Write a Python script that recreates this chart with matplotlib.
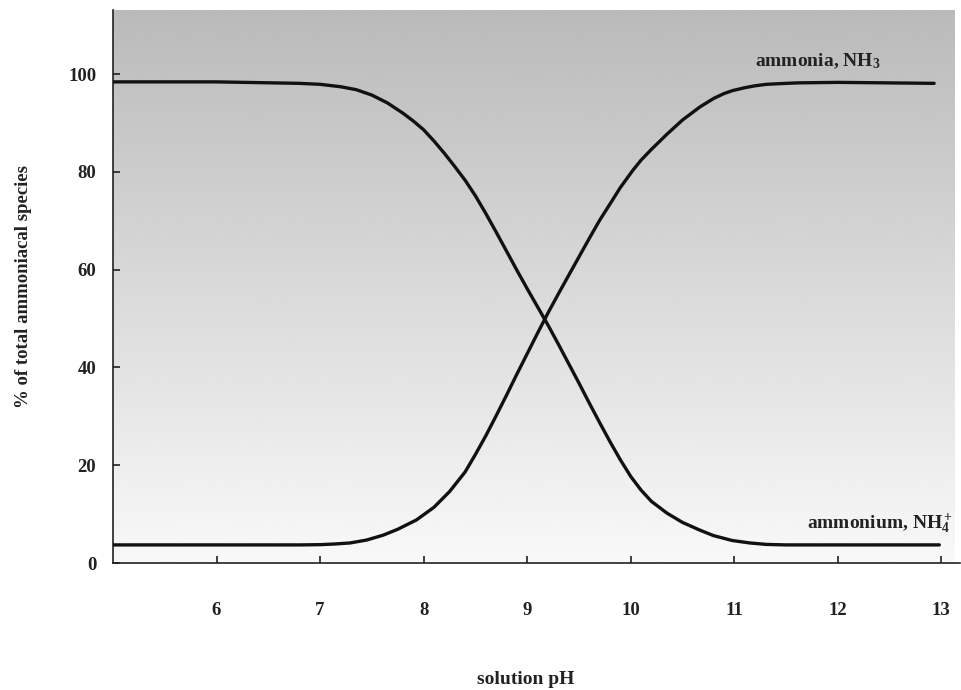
import numpy as np
import matplotlib
matplotlib.use("Agg")
import matplotlib.pyplot as plt

plt.rcParams['font.family'] = ['Liberation Serif', 'DejaVu Serif']
plt.rcParams['font.weight'] = 'bold'
plt.rcParams['mathtext.fontset'] = 'custom'
plt.rcParams['mathtext.rm'] = 'Liberation Serif:bold'
plt.rcParams['mathtext.it'] = 'Liberation Serif:bold'
plt.rcParams['mathtext.bf'] = 'Liberation Serif:bold'

# Data
ammonium_ph = [5.0, 6.0, 6.8, 7.0, 7.2, 7.35, 7.5, 7.65, 7.8, 7.9, 8.0, 8.1, 8.2,
               8.3, 8.4, 8.5, 8.6, 8.7, 8.8, 8.9, 9.0, 9.1, 9.2, 9.3, 9.4, 9.5,
               9.6, 9.7, 9.8, 9.9, 10.0, 10.1, 10.2, 10.35, 10.5, 10.67, 10.8,
               10.98, 11.15, 11.31, 11.5, 12.98]
ammonium_pct = [98.4, 98.4, 98.1, 97.9, 97.4, 96.8, 95.7, 94.1, 92.0, 90.4, 88.6,
                86.3, 83.8, 81.1, 78.3, 75.1, 71.5, 67.7, 63.8, 59.9, 56.1, 52.4,
                48.7, 44.8, 40.8, 36.8, 32.7, 28.7, 24.8, 21.1, 17.7, 14.9, 12.6,
                10.2, 8.3, 6.7, 5.6, 4.6, 4.1, 3.8, 3.7, 3.7]

ammonia_ph = [5.0, 6.8, 7.0, 7.15, 7.29, 7.45, 7.61, 7.75, 7.93, 8.1, 8.25, 8.4,
              8.5, 8.6, 8.7, 8.8, 8.9, 9.0, 9.1, 9.2, 9.3, 9.4, 9.5, 9.6, 9.7,
              9.82, 9.9, 10.02, 10.1, 10.2, 10.35, 10.5, 10.67, 10.8, 10.9, 10.98,
              11.1, 11.2, 11.31, 11.5, 11.63, 12.0, 12.93]
ammonia_pct = [3.7, 3.7, 3.75, 3.9, 4.1, 4.7, 5.7, 6.9, 8.8, 11.4, 14.6, 18.6,
               22.2, 26.0, 30.1, 34.3, 38.6, 42.8, 47.0, 51.1, 55.0, 58.8, 62.6,
               66.4, 70.1, 74.1, 76.8, 80.3, 82.4, 84.6, 87.7, 90.6, 93.3, 95.0,
               96.0, 96.6, 97.2, 97.6, 97.9, 98.1, 98.2, 98.3, 98.1]

x_ticks = [6, 7, 8, 9, 10, 11, 12, 13]
y_ticks = [0, 20, 40, 60, 80, 100]

fig = plt.figure(figsize=(9.61, 6.90), dpi=100)
ax = fig.add_axes([113/961, (690-563)/690, (960-113)/961, (563-10)/690])
ax.set_xlim(5, 13.18)
ax.set_ylim(0, 113.1)

# gradient background
grad = np.linspace(0.975, 0.73, 256).reshape(-1, 1)
ax.imshow(grad, cmap='gray', vmin=0, vmax=1, aspect='auto', origin='lower',
          extent=[5, 13.13, 0, 113.1], zorder=0, interpolation='bicubic')
ax.set_facecolor('white')

ax.plot(ammonium_ph, ammonium_pct, color='#111111', lw=2.4, solid_capstyle='round',
        solid_joinstyle='round', zorder=3)
ax.plot(ammonia_ph, ammonia_pct, color='#111111', lw=2.4, solid_capstyle='round',
        solid_joinstyle='round', zorder=3)

ax.text(11.2, 101.6, 'ammonia, NH$_3$', fontsize=14, fontweight='bold',
        ha='left', va='baseline', color='#222222')
ax.text(11.7, 7.2, 'ammonium, NH$_4^+$', fontsize=14, fontweight='bold',
        ha='left', va='baseline', color='#222222', clip_on=False)

for s in ['top', 'right']:
    ax.spines[s].set_visible(False)
for s in ['left', 'bottom']:
    ax.spines[s].set_linewidth(1.2)
    ax.spines[s].set_color('#222222')

ax.set_xticks(x_ticks)
ax.set_yticks(y_ticks)
ax.tick_params(axis='x', direction='in', length=5, width=1.2, pad=28, labelsize=13.5, colors='#222222')
ax.tick_params(axis='y', direction='in', length=5, width=1.2, pad=12, labelsize=13.5, colors='#222222')
for lab in ax.get_xticklabels() + ax.get_yticklabels():
    lab.set_fontweight('bold')

fig.text(526/961, 1 - 680/690, 'solution pH', fontsize=14, fontweight='bold',
         ha='center', va='center', color='#222222')
ax.set_ylabel('% of total ammoniacal species', fontsize=13.5, fontweight='bold',
              labelpad=26, color='#222222')

fig.savefig('out.png', dpi=100)
